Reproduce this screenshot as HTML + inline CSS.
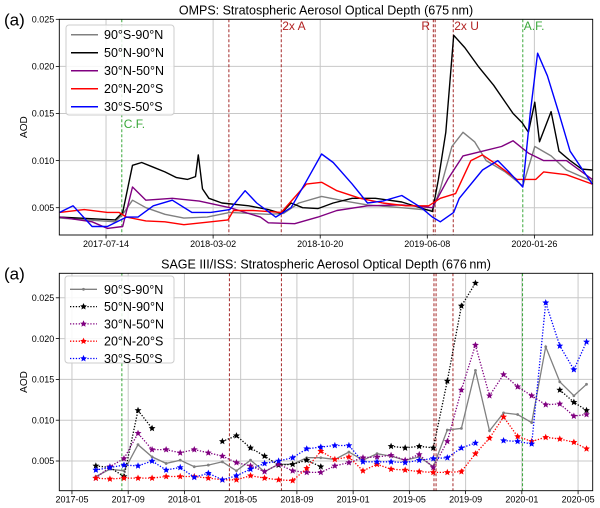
<!DOCTYPE html>
<html><head><meta charset="utf-8"><style>
html,body{margin:0;padding:0;background:#fff;}
svg{display:block;font-family:"Liberation Sans","DejaVu Sans",sans-serif;}
</style></head><body>
<svg id="chart" width="600" height="508" viewBox="0 0 600 508"></svg>
<script>
// ---------- TOP PANEL DATA (OMPS), x = days since 2017-07-14 ----------
const topTickDays = [0, 231, 462, 693, 924];
const topTickLabels = ["2017-07-14","2018-03-02","2018-10-20","2019-06-08","2020-01-26"];
const yTicksTop = [0.005, 0.010, 0.015, 0.020, 0.025];
const yTickLabelsTop = ["0.005","0.010","0.015","0.020","0.025"];
const topRedEvents = [265, 378, 706, 710, 749];
const topGreenEvents = [34, 899];

const blackDays = [-100,20,36,57,77,102,127,152,176,193,199,208,222,250,308,350,378,399,424,457,490,531,581,638,704,717,733,750,774,803,836,878,898,911,925,935,960,977,1001,1026,1049];
const blackVals = [0.0040,0.0037,0.0045,0.0095,0.0098,0.0093,0.0088,0.0082,0.0080,0.0083,0.0106,0.0070,0.0060,0.0055,0.0052,0.0048,0.0044,0.0055,0.0050,0.0049,0.0055,0.0060,0.0060,0.0056,0.0046,0.0080,0.0130,0.0233,0.0220,0.0200,0.0180,0.0150,0.0140,0.0130,0.0162,0.0120,0.0152,0.0110,0.0100,0.0091,0.0090];
const grayDays = [-100,20,36,57,86,127,168,218,267,350,383,416,465,515,564,638,704,721,746,770,795,820,861,899,925,960,993,1049];
const grayVals = [0.0039,0.0035,0.0043,0.0058,0.0050,0.0043,0.0039,0.0040,0.0045,0.0043,0.0044,0.0055,0.0062,0.0057,0.0053,0.0050,0.0047,0.0070,0.0115,0.0130,0.0120,0.0100,0.0088,0.0073,0.0115,0.0105,0.0090,0.0078];
const purpleDays = [-100,-30,3,36,57,86,143,201,267,333,350,407,457,498,564,638,704,737,770,812,853,878,911,944,993,1049];
const purpleVals = [0.0040,0.0035,0.0028,0.0030,0.0072,0.0058,0.0060,0.0057,0.0050,0.0040,0.0034,0.0033,0.0040,0.0047,0.0052,0.0053,0.0050,0.0080,0.0105,0.0110,0.0115,0.0121,0.0108,0.0100,0.0100,0.0080];
const redDays = [-100,-47,3,28,44,86,127,168,226,263,275,317,378,432,465,498,548,597,647,696,721,754,787,812,845,886,927,944,993,1049];
const redVals = [0.0045,0.0048,0.0045,0.0045,0.0040,0.0036,0.0035,0.0032,0.0035,0.0037,0.0047,0.0047,0.0045,0.0075,0.0077,0.0068,0.0060,0.0055,0.0052,0.0052,0.0060,0.0065,0.0100,0.0106,0.0095,0.0080,0.0080,0.0088,0.0085,0.0075];
const blueDays = [-100,-71,-30,3,44,69,102,143,185,226,267,300,325,366,399,432,465,490,531,564,597,638,680,704,721,750,762,812,845,869,899,915,931,952,977,1001,1049];
const blueVals = [0.0045,0.0052,0.0030,0.0030,0.0040,0.0040,0.0052,0.0058,0.0045,0.0045,0.0048,0.0068,0.0055,0.0040,0.0050,0.0078,0.0107,0.0098,0.0075,0.0055,0.0057,0.0063,0.0050,0.0040,0.0035,0.0045,0.0060,0.0090,0.0100,0.0088,0.0072,0.0150,0.0214,0.0190,0.0150,0.0110,0.0075];

// ---------- BOTTOM PANEL DATA (SAGE III/ISS), x = months since 2017-05 ----------
const botTickMonths = [0,4,8,12,16,20,24,28,32,36];
const botTickLabels = ["2017-05","2017-09","2018-01","2018-05","2018-09","2019-01","2019-05","2019-09","2020-01","2020-05"];
const yTicksBot = [0.005,0.010,0.015,0.020,0.025];
const yTickLabelsBot = ["0.005","0.010","0.015","0.020","0.025"];
const botRedEvents = [11.2, 14.9, 25.75, 25.9, 27.1];
const botGreenEvents = [3.55, 32.05];
const sageMonths = [1.7,2.7,3.7,4.7,5.7,6.7,7.7,8.7,9.7,10.7,11.7,12.7,13.7,14.7,15.7,16.7,17.7,18.7,19.7,20.7,21.7,22.7,23.7,24.7,25.7,26.7,27.7,28.7,29.7,30.7,31.7,32.7,33.7,34.7,35.7,36.6];
const sGray = [.0031,.0040,.0038,.0070,.0055,.0047,.0051,.0043,.0045,.0049,.0038,.0051,.0037,.0046,.0046,.0054,.0054,.0052,.0061,.0051,.0059,.0056,.0051,.0055,.0043,.0088,.0090,.0161,.0087,.0109,.0107,.0097,.0190,.0147,.0130,.0144];
const sBlack = [.0044,.0042,.0031,.0112,.0090,null,null,null,null,.0074,.0081,.0066,.0056,.0045,.0046,.0051,.0043,null,null,null,null,.0068,.0066,.0068,.0066,.0148,.0240,.0268,null,null,null,null,null,.0137,.0122,.0112];
const sPurple = [.0029,.0043,.0053,.0084,.0064,.0064,.0060,.0064,.0060,.0056,.0048,.0044,.0037,.0046,.0038,.0036,.0036,.0044,.0048,.0054,.0055,.0057,.0051,.0058,.0042,.0074,.0137,.0192,.0130,.0156,.0141,.0130,.0119,.0120,.0105,.0107];
const sRed = [.0029,.0028,.0029,.0029,.0029,.0031,.0031,.0031,.0029,.0027,.0027,.0032,.0029,.0027,.0026,.0041,.0062,.0052,.0055,.0038,.0046,.0040,.0039,.0037,.0036,.0036,.0037,.0059,.0078,.0104,.0080,.0074,.0079,.0077,.0073,.0065];
const sBlue = [.0039,.0042,.0045,.0044,.0050,.0039,.0042,.0030,.0035,.0027,.0032,.0040,.0047,.0050,.0054,.0065,.0067,.0069,.0069,.0049,.0049,.0049,.0048,.0051,.0053,.0054,.0066,.0072,null,.0075,.0074,.0071,.0244,.0191,.0162,.0196];
const legendLabels = ["90°S-90°N","50°N-90°N","30°N-50°N","20°N-20°S","30°S-50°S"];

const NS="http://www.w3.org/2000/svg";
const svg=document.getElementById('chart');
function mk(tag,attrs,parent){const e=document.createElementNS(NS,tag);for(const k in attrs)e.setAttribute(k,attrs[k]);(parent||svg).appendChild(e);return e;}
function txt(s,attrs,parent){const t=mk('text',attrs,parent);t.textContent=s;return t;}

// axis functions
const TX0=59.3,TX1=592.7,TY0=19.3,TY1=235;
const txs=d=>TX0+(d+100.8)/(1049.8+100.8)*(TX1-TX0);
const tys=v=>207.7-(v-0.005)*9420;
const BX0=59.3,BX1=592.7,BY0=273.3,BY1=490.7;
const bxs=m=>BX0+(m+0.9)/(37.94)*(BX1-BX0);
const bys=v=>461-(v-0.005)*8160;

function panel(id,x0,x1,y0,y1,xt,xtl,xs,yt,ytl,ys,title,ylab){
  const g=mk('g',{});
  
  
  xt.forEach((d,i)=>{const x=xs(d);
    const l=mk('line',{x1:x,x2:x,y1:y0,y2:y1,stroke:'#c8c8c8','stroke-width':1},g);
    
    mk('line',{x1:x,x2:x,y1:y1,y2:y1+3.5,stroke:'#000','stroke-width':0.8},g);
    const t=txt(xtl[i],{x:x,y:y1+12,'font-size':9,'text-anchor':'middle'},g);
    
  });
  yt.forEach((v,i)=>{const y=ys(v);
    const l=mk('line',{x1:x0,x2:x1,y1:y,y2:y,stroke:'#c8c8c8','stroke-width':1},g);
    
    mk('line',{x1:x0-3.5,x2:x0,y1:y,y2:y,stroke:'#000','stroke-width':0.8},g);
    const t=txt(ytl[i],{x:x0-5,y:y+3.2,'font-size':9,'text-anchor':'end'},g);
    
  });
  const tt=txt(title,{x:(x0+x1)/2,y:y0-5,'font-size':12.5,'text-anchor':'middle'},g);
  
  const yl=txt(ylab,{x:0,y:0,'font-size':10,'text-anchor':'middle',transform:`translate(27,${(y0+y1)/2}) rotate(-90)`},g);
  
  const pl=txt('(a)',{x:4,y:y0+6,'font-size':17},g);
  
  return g;
}
function frame(x0,x1,y0,y1){const r=mk('rect',{x:x0,y:y0,width:x1-x0,height:y1-y0,fill:'none',stroke:'#000','stroke-width':0.9});
  }
function vline(x,y0,y1,col,w,name){const l=mk('line',{x1:x,x2:x,y1:y0,y2:y1,stroke:col,'stroke-width':w,'stroke-dasharray':'3,2'});
  }
function pathFrom(xsArr,vals,xs,ys){let d='',pen=false;
  vals.forEach((v,i)=>{if(v===null){pen=false;return;}const x=xs(xsArr[i]).toFixed(1),y=ys(v).toFixed(1);d+=(pen?'L':'M')+x+' '+y+' ';pen=true;});return d;}
function star(cx,cy,r,col,parent){let p=[];for(let i=0;i<10;i++){const a=-Math.PI/2+i*Math.PI/5;const rr=i%2?r*0.45:r;p.push((cx+rr*Math.cos(a)).toFixed(1)+','+(cy+rr*Math.sin(a)).toFixed(1));}
  const s=mk('polygon',{points:p.join(' '),fill:col},parent);return s;}

// ---------- TOP PANEL ----------
panel('omps',TX0,TX1,TY0,TY1,topTickDays,topTickLabels,txs,yTicksTop,yTickLabelsTop,tys,'OMPS: Stratospheric Aerosol Optical Depth (675\u2009nm)','AOD');
const clipT=mk('clipPath',{id:'ct'});mk('rect',{x:TX0,y:TY0,width:TX1-TX0,height:TY1-TY0},clipT);
const clipB=mk('clipPath',{id:'cb'});mk('rect',{x:BX0,y:BY0,width:BX1-BX0,height:BY1-BY0},clipB);
topRedEvents.forEach(d=>vline(txs(d),TY0,TY1,'#a52a2a',1,'event-line-red'));
topGreenEvents.forEach(d=>vline(txs(d),TY0,TY1,'#3aa83a',1,'event-line-green'));
const topSeries=[[grayDays,grayVals,'#808080','series-90s-90n'],[blackDays,blackVals,'#000','series-50n-90n'],[purpleDays,purpleVals,'#800080','series-30n-50n'],[redDays,redVals,'#ff0000','series-20n-20s'],[blueDays,blueVals,'#0000ff','series-30s-50s']];
topSeries.forEach(s=>{const p=mk('path',{d:pathFrom(s[0],s[1],txs,tys),fill:'none',stroke:s[2],'stroke-width':1.4,'stroke-linejoin':'round','clip-path':'url(#ct)'});
  });
[['2x A',txs(378)+1,30,'#b22222'],['R',txs(706)-12,30,'#b22222'],['2x U',txs(749)+1,30,'#b22222'],['A.F.',txs(899)+1,30,'#3aa83a'],['C.F.',txs(34)+2,128,'#3aa83a']].forEach(a=>{
  const t=txt(a[0],{x:a[1],y:a[2],'font-size':12,fill:a[3]});});
frame(TX0,TX1,TY0,TY1);
// top legend
const lgT=mk('g',{});
mk('rect',{x:66,y:25,width:108,height:90,rx:3,fill:'#fff','fill-opacity':0.85,stroke:'#ccc'},lgT);
const topCols=['#808080','#000','#800080','#ff0000','#0000ff'];
legendLabels.forEach((lab,i)=>{const y=34.7+i*18;
  const e=mk('g',{},lgT);
  mk('line',{x1:71,x2:98,y1:y,y2:y,stroke:topCols[i],'stroke-width':1.5},e);
  txt(lab,{x:104,y:y+4.5,'font-size':12.5},e);});

// ---------- BOTTOM PANEL ----------
panel('sage',BX0,BX1,BY0,BY1,botTickMonths,botTickLabels,bxs,yTicksBot,yTickLabelsBot,bys,'SAGE III/ISS: Stratospheric Aerosol Optical Depth (676\u2009nm)','AOD');
botRedEvents.forEach(m=>vline(bxs(m),BY0,BY1,'#a52a2a',1,'event-line-red'));
botGreenEvents.forEach(m=>vline(bxs(m),BY0,BY1,'#3aa83a',1,'event-line-green'));
const botSeries=[[sGray,'#808080','series-90s-90n',false],[sBlack,'#000','series-50n-90n',true],[sPurple,'#800080','series-30n-50n',true],[sRed,'#ff0000','series-20n-20s',true],[sBlue,'#0000ff','series-30s-50s',true]];
botSeries.forEach(s=>{const g=mk('g',{'clip-path':'url(#cb)'});
  const a={d:pathFrom(sageMonths,s[0],bxs,bys),fill:'none',stroke:s[1],'stroke-width':s[3]?1.3:1.3};if(s[3])a['stroke-dasharray']='1.3,1.6';
  const p=mk('path',a,g);
  s[0].forEach((v,i)=>{if(v===null)return;const x=bxs(sageMonths[i]),y=bys(v);
    if(s[3])star(x,y,3.6,s[1],g);else{const c=mk('circle',{cx:x,cy:y,r:1.4,fill:s[1]},g);}});});
frame(BX0,BX1,BY0,BY1);
const lgB=mk('g',{});
mk('rect',{x:65,y:276,width:109,height:87,rx:3,fill:'#fff','fill-opacity':0.85,stroke:'#ccc'},lgB);
legendLabels.forEach((lab,i)=>{const y=289.3+i*17.3;const s=botSeries[i];
  const e=mk('g',{},lgB);
  const a={x1:70,x2:97,y1:y,y2:y,stroke:s[1],'stroke-width':1.3};if(s[3])a['stroke-dasharray']='1.3,1.6';
  mk('line',a,e);
  if(s[3])star(83.5,y,3.6,s[1],e);else mk('circle',{cx:83.5,cy:y,r:1.4,fill:s[1]},e);
  txt(lab,{x:104,y:y+4.5,'font-size':12.5},e);});
</script>
</body></html>
